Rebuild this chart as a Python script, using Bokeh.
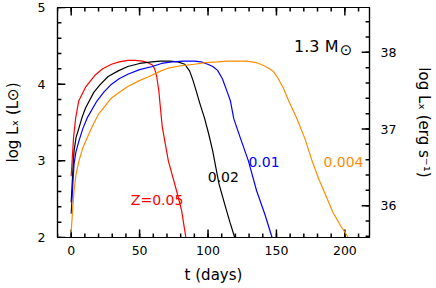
import numpy as np
from bokeh.plotting import figure
from bokeh.models import Range1d, LinearAxis, SingleIntervalTicker, Label
from bokeh.embed import file_html
from bokeh.resources import INLINE

LOG_LSUN = 33.585  # log10 of solar luminosity in erg/s

# Z = 0.05 (red)
t_z005 = [0, 0.7, 1.7, 3.3, 5.5, 10.5, 17.6, 23, 29.5, 35, 41.4, 47, 52, 56, 59.3, 61, 62.5, 64, 66.5, 71, 77, 80.7, 83.8]
L_z005 = [2.8, 3.0, 3.3, 3.56, 3.78, 3.96, 4.12, 4.2, 4.26, 4.29, 4.31, 4.31, 4.30, 4.28, 4.25, 4.2, 4.1, 3.92, 3.45, 3.0, 2.61, 2.35, 2.0]

# Z = 0.02 (black)
t_z002 = [0, 1, 2.1, 3.5, 5.7, 8, 10.5, 16.4, 21, 27, 34, 41.4, 50, 59, 65, 72, 78, 83, 86.6, 89, 91.4, 94, 97.4, 100.5, 103.4, 108, 112.9, 116, 119.5]
L_z002 = [2.46, 2.8, 3.13, 3.3, 3.43, 3.57, 3.69, 3.89, 3.99, 4.10, 4.17, 4.23, 4.27, 4.29, 4.30, 4.30, 4.29, 4.26, 4.17, 4.05, 3.91, 3.75, 3.56, 3.35, 3.13, 2.70, 2.39, 2.2, 2.0]

# Z = 0.01 (blue)
t_z001 = [0, 1.2, 2.1, 3.5, 5.7, 8.5, 11.7, 18.8, 24, 29.5, 35, 41.4, 50, 59.3, 66, 73.6, 82, 90, 95, 99.8, 103.5, 107, 110.5, 114, 116.4, 118.8, 123.6, 129.5, 135.5, 141.4, 146.8]
L_z001 = [2.31, 2.70, 2.96, 3.12, 3.26, 3.42, 3.56, 3.78, 3.9, 4.0, 4.07, 4.13, 4.19, 4.23, 4.27, 4.29, 4.30, 4.30, 4.29, 4.26, 4.23, 4.18, 4.07, 3.9, 3.78, 3.55, 3.3, 3.0, 2.61, 2.31, 2.0]

# Z = 0.004 (orange)
t_z0004 = [0, 1, 2.1, 3.5, 5.7, 8.5, 11.7, 16, 20, 25, 29.5, 35, 41.4, 49, 57, 64, 71, 80, 90, 98, 107, 114, 121, 128, 135.5, 141, 145, 147.5, 149.5, 151, 155, 159, 165, 171, 176, 181, 186, 191.5, 197, 202.5]
L_z0004 = [2.07, 2.35, 2.61, 2.82, 3.0, 3.17, 3.30, 3.47, 3.61, 3.72, 3.82, 3.89, 3.97, 4.04, 4.10, 4.16, 4.21, 4.24, 4.26, 4.28, 4.29, 4.30, 4.30, 4.30, 4.28, 4.24, 4.2, 4.17, 4.12, 4.08, 3.95, 3.78, 3.55, 3.28, 3.0, 2.76, 2.55, 2.32, 2.15, 2.0]

series_labels = ["Z=0.05", "0.02", "0.01", "0.004"]
label_t = [43.6, 99.8, 129.5, 184.3]
label_L = [2.49, 2.79, 2.99, 2.99]
colors = ["#ff0000", "#000000", "#0000ff", "#ff8c00"]

# axis ranges and tick intervals
X_START, X_END = -10, 218
Y_START, Y_END = 2, 5
X_MAJOR, X_MINOR = 50, 10
Y_MAJOR, Y_MINOR = 1, 0.2

FONT = "DejaVu Sans"
W, H = 436, 288
BL, BR, BT, BB = 53, 64, 7, 51
FW, FH = W - BL - BR, H - BT - BB   # frame size in px
DX = (X_END - X_START) / FW          # data units per px
DY = (Y_END - Y_START) / FH

p = figure(width=W, height=H, output_backend="svg", toolbar_location=None,
           x_range=Range1d(X_START, X_END), y_range=Range1d(Y_START, Y_END),
           min_border_left=BL, min_border_right=BR, min_border_top=BT, min_border_bottom=BB)
p.extra_y_ranges = {"erg": Range1d(Y_START + LOG_LSUN, Y_END + LOG_LSUN)}
p.grid.visible = False
p.outline_line_color = "black"
p.outline_line_width = 1.2


def style(ax):
    ax.major_tick_in = 0
    ax.major_tick_out = 0
    ax.minor_tick_in = 0
    ax.minor_tick_out = 0
    ax.axis_line_color = "black"
    ax.axis_line_width = 1.2
    ax.major_label_text_font = FONT
    ax.major_label_text_font_size = "12.5px"
    ax.major_label_text_color = "black"
    ax.axis_label_text_font = FONT
    ax.axis_label_text_font_style = "normal"
    ax.axis_label_text_font_size = "15px"
    ax.axis_label_text_color = "black"


xb = p.xaxis[0]
xb.ticker = SingleIntervalTicker(interval=X_MAJOR, num_minor_ticks=5)
xb.axis_label = "t (days)"
style(xb)
xb.major_label_standoff = 8
xb.axis_label_standoff = 8

yl = p.yaxis[0]
yl.ticker = SingleIntervalTicker(interval=Y_MAJOR, num_minor_ticks=5)
yl.axis_label = "log L\u2093 (L\u2299)"
style(yl)
yl.major_label_standoff = 12
yl.axis_label_standoff = 13

yr = LinearAxis(y_range_name="erg", ticker=SingleIntervalTicker(interval=Y_MAJOR, num_minor_ticks=5),
                axis_label="log L\u2093 (erg s\u207b\u00b9)")
style(yr)
yr.major_label_standoff = 11
yr.axis_label_standoff = 16
p.add_layout(yr, "right")

# inward tick marks on all four sides, as short segments from the frame edges
x_major = np.arange(0, X_END + 1e-9, X_MAJOR)
x_minor = np.arange(X_START, X_END + 1e-9, X_MINOR)
y_major = np.arange(Y_START, Y_END + 1e-9, Y_MAJOR)
y_minor = np.round(np.arange(Y_START, Y_END + 1e-9, Y_MINOR), 3)
r_major = np.arange(36, 38 + 1e-9, Y_MAJOR) - LOG_LSUN
r_minor = np.round(np.arange(35.6, Y_END + LOG_LSUN, Y_MINOR), 3) - LOG_LSUN

tick = dict(line_color="black", line_width=1.5)
for vals, ln in ((x_major, 8), (x_minor, 4)):
    n = len(vals)
    p.segment(x0=vals, y0=[Y_START] * n, x1=vals, y1=[Y_START + ln * DY] * n, **tick)
    p.segment(x0=vals, y0=[Y_END] * n, x1=vals, y1=[Y_END - ln * DY] * n, **tick)
for vals, ln in ((y_major, 8), (y_minor, 4)):
    n = len(vals)
    p.segment(x0=[X_START] * n, y0=vals, x1=[X_START + ln * DX] * n, y1=vals, **tick)
for vals, ln in ((r_major, 8), (r_minor, 4)):
    n = len(vals)
    p.segment(x0=[X_END] * n, y0=vals, x1=[X_END - ln * DX] * n, y1=vals, **tick)

for t, L, c in zip([t_z005, t_z002, t_z001, t_z0004], [L_z005, L_z002, L_z001, L_z0004], colors):
    p.line(t, L, line_color=c, line_width=1.2)

for txt, tx, ly, c in zip(series_labels, label_t, label_L, colors):
    p.add_layout(Label(x=tx, y=ly, text=txt, text_color=c, text_font=FONT,
                       text_font_size="14px", text_align="left", text_baseline="alphabetic"))

p.add_layout(Label(x=162.9, y=4.494, text="1.3 M", text_color="black", text_font=FONT,
                   text_font_size="16px", text_align="left", text_baseline="alphabetic"))
p.add_layout(Label(x=196.3, y=4.45, text="\u2299", text_color="black", text_font=FONT,
                   text_font_size="15px", text_align="left", text_baseline="middle"))

open("out.html", "w").write(file_html(p, INLINE))
